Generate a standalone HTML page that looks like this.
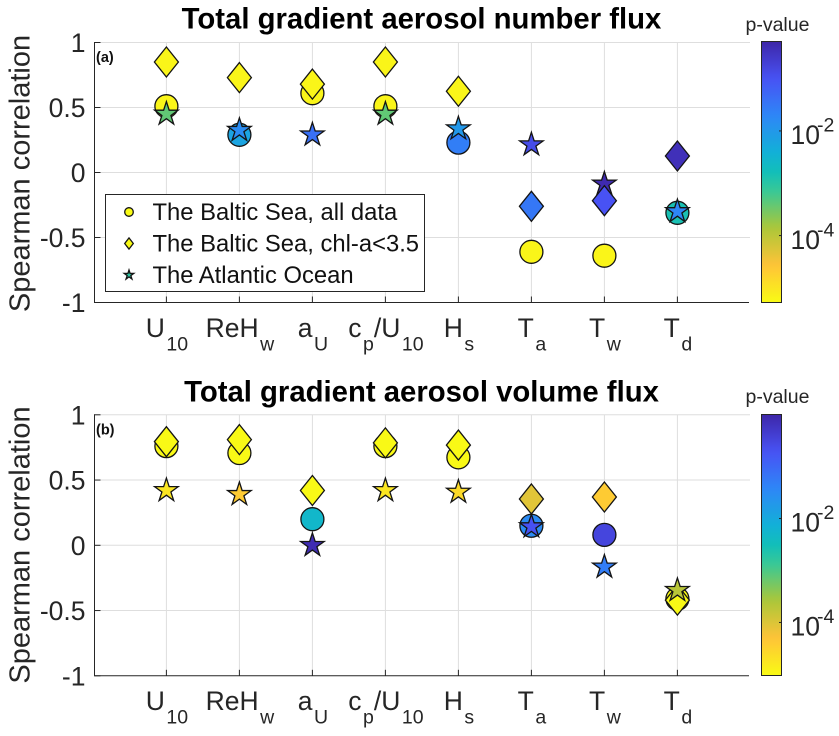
<!DOCTYPE html>
<html>
<head>
<meta charset="utf-8">
<title>Spearman correlation</title>
<style>
html,body{margin:0;padding:0;background:#fff;}
svg{display:block;}
text{font-family:"Liberation Sans",Arial,sans-serif;}
</style>
</head>
<body>
<svg id="fig" width="839" height="736" viewBox="0 0 839 736" xmlns="http://www.w3.org/2000/svg"></svg>
<script>
// ---------- data ----------
const categoryMain = [["U","10"],["ReH","w"],["a","U"],["c","p","/U","10"],["H","s"],["T","a"],["T","w"],["T","d"]];
const yTicks = [1,0.5,0,-0.5,-1];
const yTickLabels = ["1","0.5","0","-0.5","-1"];
const legendLabels = ["The Baltic Sea, all data","The Baltic Sea, chl-a<3.5","The Atlantic Ocean"];
const cbarTicks = [-2,-4];

// panel (a): Spearman correlation
const aCircle  = [0.51,0.29,0.61,0.51,0.23,-0.61,-0.64,-0.31];
const aDiamond = [0.85,0.73,0.68,0.85,0.625,-0.26,-0.217,0.127];
const aStar    = [0.45,0.325,0.29,0.45,0.337,0.214,-0.088,-0.30];
// panel (a): log10 p-value
const aCircleP  = [-5.2,-2.2,-5.2,-5.2,-1.6,-5.2,-5.2,-2.85];
const aDiamondP = [-5.2,-5.2,-5.2,-5.2,-5.2,-1.5,-1.0,-0.45];
const aStarP    = [-3.4,-1.8,-1.4,-3.4,-2.0,-0.9,-0.35,-1.7];

// panel (b): Spearman correlation
const bCircle  = [0.76,0.707,0.2,0.76,0.674,0.15,0.08,-0.41];
const bDiamond = [0.794,0.81,0.42,0.785,0.768,0.355,0.37,-0.42];
const bStar    = [0.42,0.39,0.0,0.42,0.408,0.143,-0.166,-0.345];
// panel (b): log10 p-value
const bCircleP  = [-5.0,-5.0,-2.3,-5.0,-5.0,-1.5,-0.5,-5.0];
const bDiamondP = [-5.0,-5.0,-5.0,-5.0,-5.0,-4.05,-4.4,-5.0];
const bStarP    = [-4.75,-4.4,-0.1,-4.75,-4.6,-0.7,-1.3,-3.7];

// ---------- helpers ----------
const NS = "http://www.w3.org/2000/svg";
const svg = document.getElementById("fig");
const INK = "#262626";
const EDGE = "#141414";
const PARULA = [
 [0,.2422,.1504,.6603],[.1429,.2810,.3228,.9579],[.2857,.1786,.5289,.9682],
 [.4286,.0689,.6948,.8394],[.5,.0704,.7457,.7258],[.5714,.2161,.7843,.5923],
 [.7143,.6720,.7793,.2227],[.8571,.9970,.7659,.2199],[1,.9769,.9839,.0805]];
function parula(t){
  t = Math.max(0,Math.min(1,t));
  for(let i=1;i<PARULA.length;i++){
    if(t<=PARULA[i][0]){
      const a=PARULA[i-1],b=PARULA[i],f=(t-a[0])/(b[0]-a[0]);
      const c=[1,2,3].map(k=>Math.round(255*(a[k]+(b[k]-a[k])*f)));
      return "rgb("+c.join(",")+")";
    }
  }
  return "rgb(249,251,21)";
}
function mk(tag,attrs,parent){
  const el=document.createElementNS(NS,tag);
  for(const k in attrs) el.setAttribute(k,attrs[k]);
  (parent||svg).appendChild(el);
  return el;
}
function xScale(i){ return 166.4 + 73*i; }
function starPts(cx,cy,R){
  const p=[];
  for(let i=0;i<10;i++){
    const r=i%2?R*0.382:R, an=-Math.PI/2+i*Math.PI/5;
    p.push((cx+r*Math.cos(an)).toFixed(2)+","+(cy+r*Math.sin(an)).toFixed(2));
  }
  return p.join(" ");
}
function drawCircle(g,x,y,r,fill){
  return mk("circle",{cx:x,cy:y,r:r,fill:fill,stroke:EDGE,"stroke-width":1.3},g);
}
function drawDiamond(g,x,y,w,h,fill){
  const pts=x+","+(y-h)+" "+(x+w)+","+y+" "+x+","+(y+h)+" "+(x-w)+","+y;
  return mk("polygon",{points:pts,fill:fill,stroke:EDGE,"stroke-width":1.3,"stroke-linejoin":"miter"},g);
}
function drawStar(g,x,y,R,fill){
  return mk("polygon",{points:starPts(x,y,R),fill:fill,stroke:EDGE,"stroke-width":1.3,"stroke-linejoin":"miter"},g);
}

// ---------- panel ----------
function drawPanel(cfg){
  const root=mk("g",{});
  
  
  const yScale=v=>cfg.y0-v*cfg.yUnit;
  const L=94.5,R=750,T=yScale(1),B=yScale(-1);
  const col=p=>parula((cfg.pMax-p)/(cfg.pMax-cfg.pMin));

  const title=mk("text",{x:421.5,y:cfg.titleY,"text-anchor":"middle","font-size":29.3,"font-weight":"bold",fill:"#000"},root);
  title.textContent=cfg.title;
  
  

  // grid
  yTicks.forEach(function(v){
    if(v===-1) return;
    const gl=mk("line",{x1:L,x2:R,y1:yScale(v),y2:yScale(v),stroke:"#dedede","stroke-width":1},root);
    
    
  });
  categoryMain.forEach(function(c,i){
    const gl=mk("line",{x1:xScale(i),x2:xScale(i),y1:T,y2:B,stroke:"#dedede","stroke-width":1},root);
    
    
  });

  // axes
  const yAxis=mk("line",{x1:L,x2:L,y1:T-0.5,y2:B+0.5,stroke:INK,"stroke-width":1},root);
  
  
  const xAxis=mk("line",{x1:L,x2:R-1,y1:B,y2:B,stroke:INK,"stroke-width":1},root);
  
  

  yTicks.forEach(function(v,i){
    const t=mk("line",{x1:L,x2:L+6,y1:yScale(v),y2:yScale(v),stroke:INK,"stroke-width":1},root);
    
    
    const lab=mk("text",{x:85.5,y:yScale(v)+9.5,"text-anchor":"end","font-size":26.5,fill:INK},root);
    lab.textContent=yTickLabels[i];
    
    
  });

  categoryMain.forEach(function(parts,i){
    const t=mk("line",{x1:xScale(i),x2:xScale(i),y1:B,y2:B-6,stroke:INK,"stroke-width":1},root);
    
    
    const lab=mk("text",{x:xScale(i)+0.5,y:cfg.xLabY,"text-anchor":"middle","font-size":26.5,fill:INK},root);
    
    
    parts.forEach(function(s,k){
      const isSub=k%2===1;
      const ts=mk("tspan",{"font-size":isSub?19.5:26.5,dy:k===0?0:(isSub?13.7:-13.7),dx:isSub?1.5:0},lab);
      ts.textContent=s;
    });
  });

  const yl=mk("text",{transform:"translate(29.5,"+cfg.yLabC+") rotate(-90)","text-anchor":"middle","font-size":29,fill:INK},root);
  yl.textContent="Spearman correlation";
  
  

  const pl=mk("text",{x:96,y:T+19.5,"font-size":14.5,"font-weight":"bold",fill:"#111"},root);
  pl.textContent=cfg.letter;
  
  

  // series
  function circles(){
    cfg.circle.forEach(function(v,i){
      const m=drawCircle(root,xScale(i),yScale(v),11.5,col(cfg.circleP[i]));
      
      
    });
  }
  function diamonds(){
    cfg.diamond.forEach(function(v,i){
      const m=drawDiamond(root,xScale(i),yScale(v),12,15,col(cfg.diamondP[i]));
      
      
    });
  }
  function stars(){
    cfg.star.forEach(function(v,i){
      const m=drawStar(root,xScale(i),yScale(v),12.4,col(cfg.starP[i]));
      
      
    });
  }
  circles();
  if(cfg.diamondTop){ stars(); diamonds(); } else { diamonds(); stars(); }

  // colorbar
  const cbX=761.5,cbW=20,cbT=cfg.cbTop,cbB=cfg.cbBottom;
  const gradId="grad-"+cfg.id;
  const defs=mk("defs",{},root);
  const grad=mk("linearGradient",{id:gradId,x1:0,y1:0,x2:0,y2:1},defs);
  for(let s=0;s<=40;s++){
    mk("stop",{offset:(s/40),"stop-color":parula(s/40)},grad);
  }
  const bar=mk("rect",{x:cbX,y:cbT,width:cbW,height:cbB-cbT,fill:"url(#"+gradId+")",stroke:INK,"stroke-width":1},root);
  
  
  const cbY=p=>cbT+(cfg.pMax-p)/(cfg.pMax-cfg.pMin)*(cbB-cbT);
  cbarTicks.forEach(function(p){
    const yy=cbY(p);
    const t=mk("line",{x1:cbX+cbW-2.5,x2:cbX+cbW,y1:yy,y2:yy,stroke:INK,"stroke-width":1},root);
    
    
    const lab=mk("text",{x:790.5,y:yy+13.2,"font-size":26.5,fill:INK},root);
    
    
    const a=mk("tspan",{},lab);
    a.textContent="10";
    const b=mk("tspan",{"font-size":19.5,dy:-12.5,dx:-3},lab);
    b.textContent=String(p);
  });
  const cbt=mk("text",{x:745.5,y:cfg.pLabY,"font-size":19.5,fill:INK},root);
  cbt.textContent="p-value";
  
  

  return root;
}

drawPanel({id:"number",letter:"(a)",title:"Total gradient aerosol number flux",y0:172.5,yUnit:130,titleY:28.5,xLabY:337,yLabC:173.5,
  circle:aCircle,diamond:aDiamond,star:aStar,circleP:aCircleP,diamondP:aDiamondP,starP:aStarP,diamondTop:true,
  pMax:-0.29,pMin:-5.28,cbTop:41.5,cbBottom:302.5,pLabY:31});
drawPanel({id:"volume",letter:"(b)",title:"Total gradient aerosol volume flux",y0:545.3,yUnit:130.5,titleY:401.5,xLabY:710,yLabC:545,
  circle:bCircle,diamond:bDiamond,star:bStar,circleP:bCircleP,diamondP:bDiamondP,starP:bStarP,diamondTop:false,
  pMax:0,pMin:-5.02,cbTop:414.5,cbBottom:675.5,pLabY:403});

// legend (panel a)
const lg=mk("g",{});


const lgBox=mk("rect",{x:105.5,y:194.5,width:319,height:97,fill:"#fff",stroke:"#262626","stroke-width":1},lg);


const lgRows=[212,243.5,275];
const m0=drawCircle(lg,129,lgRows[0],4.3,parula(1));


const m1=drawDiamond(lg,129,lgRows[1],4.3,5.6,parula(1));


const m2=drawStar(lg,129,lgRows[2],5,parula(0.55));


legendLabels.forEach(function(s,i){
  const t=mk("text",{x:152.5,y:lgRows[i]+8,"font-size":23.8,fill:"#111"},lg);
  t.textContent=s;
  
  
});
</script>
</body>
</html>
